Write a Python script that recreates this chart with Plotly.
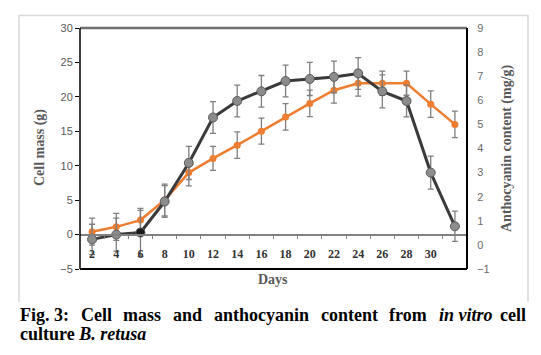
import plotly.graph_objects as go

# ---------------- data ----------------
days = [2, 4, 6, 8, 10, 12, 14, 16, 18, 20, 22, 24, 26, 28, 30, 32]
day_labels = ["2", "4", "6", "8", "10", "12", "14", "16", "18", "20", "22", "24", "26", "28", "30", ""]
cell_mass = [-0.7, 0.0, 0.3, 4.8, 10.4, 17.0, 19.4, 20.8, 22.3, 22.6, 22.9, 23.4, 20.8, 19.4, 9.0, 1.2]
cell_mass_err = [2.2, 2.4, 3.5, 2.3, 2.4, 2.3, 2.3, 2.3, 2.3, 2.4, 2.3, 2.3, 2.4, 2.3, 2.4, 2.2]
anthocyanin = [0.55, 0.75, 1.03, 1.86, 3.0, 3.59, 4.14, 4.72, 5.31, 5.87, 6.42, 6.71, 6.71, 6.71, 5.84, 5.0]
anthocyanin_err = [0.56, 0.56, 0.4, 0.66, 0.55, 0.5, 0.55, 0.54, 0.55, 0.55, 0.54, 0.54, 0.5, 0.5, 0.55, 0.55]
left_ticks = [-5, 0, 5, 10, 15, 20, 25, 30]
right_ticks = [-1, 0, 1, 2, 3, 4, 5, 6, 7, 8, 9]

# ---------------- geometry helpers ----------------
W, H = 541, 355
L, R, T, B = 80, 467, 28, 269


def px(x):
    return (x - L) / (R - L)


def py(y):
    return (B - y) / (B - T)


fig = go.Figure()

fig.add_trace(go.Scatter(
    x=days, y=anthocyanin, yaxis="y", mode="lines+markers",
    line=dict(color="#ED7D31", width=2.5),
    marker=dict(size=7, color="#ED7D31"),
    error_y=dict(type="data", array=anthocyanin_err, color="#7f7f7f", thickness=1.3, width=3),
    showlegend=False,
))

marker_colors = ["#8c8c8c"] * len(days)
marker_colors[2] = "#1a1a1a"
fig.add_trace(go.Scatter(
    x=days, y=cell_mass, yaxis="y2", mode="lines+markers",
    line=dict(color="#3a3a3a", width=3),
    marker=dict(size=9, color=marker_colors, line=dict(color="#595959", width=1)),
    error_y=dict(type="data", array=cell_mass_err, color="#7f7f7f", thickness=1.3, width=3),
    showlegend=False,
))

serif = "Liberation Serif"
sans = "Liberation Sans"

fig.update_layout(
    width=W, height=H, autosize=False,
    margin=dict(l=L, r=W - R, t=T, b=H - B, pad=0),
    paper_bgcolor="white", plot_bgcolor="white",
    xaxis=dict(
        range=[1, 33], tickmode="array", tickvals=days, ticktext=day_labels,
        anchor="free", position=5 / 35,
        showline=True, linecolor="#808080", linewidth=1.5,
        ticks="outside", ticklen=8, tickcolor="rgba(0,0,0,0)",
        minor=dict(tickmode="array", tickvals=[d + 1 for d in days[:-1]],
                   ticks="outside", ticklen=4, tickcolor="#808080", tickwidth=1),
        showgrid=False, zeroline=False,
        tickfont=dict(family=serif, size=12, color="#333333", weight="bold"),
    ),
    yaxis=dict(
        side="right", range=[-1, 9], tickmode="array", tickvals=right_ticks,
        ticks="outside", ticklen=7, tickcolor="rgba(0,0,0,0)",
        showgrid=False, zeroline=False, showline=False,
        tickfont=dict(family=sans, size=11, color="#6b6b6b"),
    ),
    yaxis2=dict(
        overlaying="y", side="left", range=[-5, 30], tickmode="array", tickvals=left_ticks,
        ticks="outside", ticklen=4, tickcolor="#000000",
        showgrid=False, zeroline=False, showline=False,
        tickfont=dict(family=sans, size=11, color="#595959"),
    ),
)

shapes = [
    # plot frame
    dict(type="line", xref="paper", yref="paper", x0=0, x1=1, y0=1, y1=1,
         line=dict(color="#707070", width=2.5)),
    dict(type="line", xref="paper", yref="paper", x0=0, x1=0, y0=0, y1=1,
         line=dict(color="#000000", width=1.5)),
    dict(type="line", xref="paper", yref="paper", x0=1, x1=1, y0=0, y1=1,
         line=dict(color="#000000", width=2)),
    dict(type="line", xref="paper", yref="paper", x0=0, x1=1, y0=0, y1=0,
         line=dict(color="#000000", width=2)),
    # outer chart border
    dict(type="path", xref="paper", yref="paper",
         path=f"M {px(19)},{py(302)} L {px(19)},{py(15.5)} L {px(528)},{py(15.5)} L {px(528)},{py(302)}",
         line=dict(color="#d9d9d9", width=1.5)),
]
fig.update_layout(shapes=shapes)

ann = []
title_font = dict(family=serif, size=14, color="#595959")
ann.append(dict(text="<b>Cell mass (g)</b>", xref="paper", yref="paper", x=px(40), y=py(148),
                textangle=-90, showarrow=False, font=title_font, xanchor="center", yanchor="middle"))
ann.append(dict(text="<b>Anthocyanin content (mg/g)</b>", xref="paper", yref="paper", x=px(507), y=py(148),
                textangle=-90, showarrow=False, font=title_font, xanchor="center", yanchor="middle"))
ann.append(dict(text="<b>Days</b>", xref="paper", yref="paper", x=px(273), y=py(279),
                showarrow=False, font=title_font, xanchor="center", yanchor="middle"))

cap_font = dict(family=serif, size=18, color="#000000")
line1_words = ["<b>Fig. 3:</b>", "<b>Cell</b>", "<b>mass</b>", "<b>and</b>", "<b>anthocyanin</b>",
               "<b>content</b>", "<b>from</b>", "<b><i>in vitro</i></b>"]
line1_x = [18, 78.7, 121.4, 171.1, 211.8, 318.5, 387.2, 436.9]
for w, x in zip(line1_words, line1_x):
    ann.append(dict(text=w, xref="paper", yref="paper", x=px(x), y=py(315),
                    showarrow=False, font=cap_font, xanchor="left", yanchor="middle"))
ann.append(dict(text="<b>cell</b>", xref="paper", yref="paper", x=px(528), y=py(315),
                showarrow=False, font=cap_font, xanchor="right", yanchor="middle"))
ann.append(dict(text="<b>culture <i>B. retusa</i></b>", xref="paper", yref="paper", x=px(18), y=py(334),
                showarrow=False, font=cap_font, xanchor="left", yanchor="middle"))
fig.update_layout(annotations=ann)

fig.write_html("out.html", config={"displayModeBar": False},
               post_script="document.body.style.margin='0';document.body.style.overflow='hidden';")
